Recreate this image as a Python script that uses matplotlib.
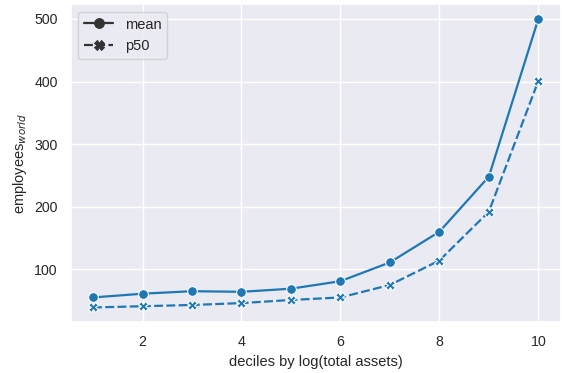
import numpy as np
import pandas as pd
import matplotlib
matplotlib.use("Agg")
import matplotlib.pyplot as plt
import seaborn as sns

# deciles and the two statistics
deciles = [1, 2, 3, 4, 5, 6, 7, 8, 9, 10]
mean_vals = [55, 61, 65, 64, 69, 81, 111, 160, 248, 500]
p50_vals = [39, 41, 43, 46, 51, 55, 75, 114, 192, 401]

sns.set_theme(style="darkgrid", rc={
    "xtick.labelsize": 10.2, "ytick.labelsize": 10.2,
    "axes.labelsize": 10.5, "legend.fontsize": 10.5,
    "lines.linewidth": 1.6, "lines.markersize": 7,
})
plt.rcParams['font.family'] = ['Liberation Sans', 'DejaVu Sans']

df = pd.DataFrame({
    "decile": deciles * 2,
    "value": mean_vals + p50_vals,
    "stat": ["mean"] * len(deciles) + ["p50"] * len(deciles),
})

dpi = 100
fig = plt.figure(figsize=(562 / dpi, 373 / dpi), dpi=dpi)
ax = fig.add_axes([0.126, 0.137, 0.8715, 0.851])
sns.lineplot(data=df, x="decile", y="value", style="stat", markers=True,
             color="#1f77b4", ax=ax)
ax.set_xlabel("deciles by log(total assets)")
ax.set_ylabel("employees$_{world}$")
leg = ax.legend(loc="upper left", title=None)
# style-only legend entries are drawn in dark grey, solid markers
for h in leg.get_lines():
    h.set_color(".2")
    h.set_markerfacecolor(".2")
    h.set_markeredgecolor(".2")

fig.savefig("out.png", dpi=dpi)
